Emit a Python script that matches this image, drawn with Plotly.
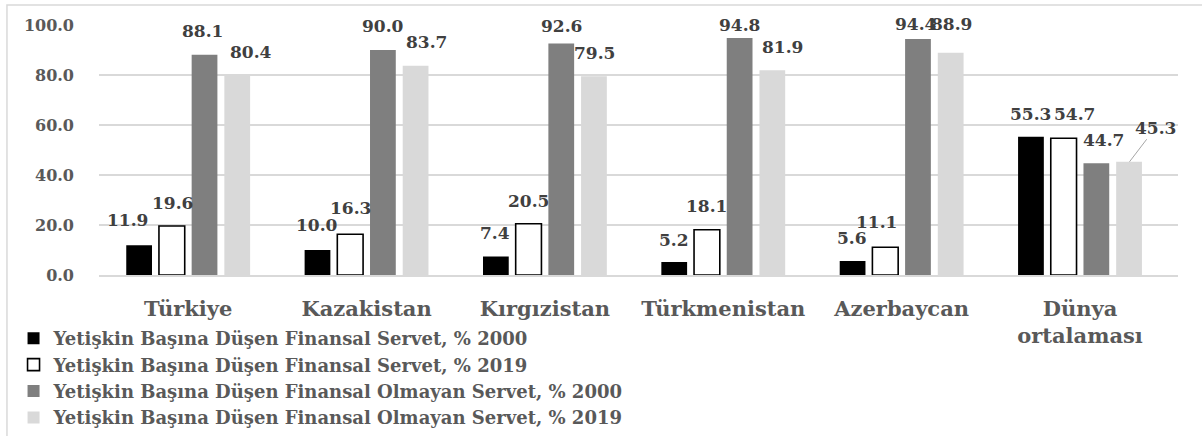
import plotly.graph_objects as go

categories = ["Türkiye", "Kazakistan", "Kırgızistan", "Türkmenistan", "Azerbaycan", "Dünya<br>ortalaması"]
series_names = [
    "Yetişkin Başına Düşen Finansal Servet, % 2000",
    "Yetişkin Başına Düşen Finansal Servet, % 2019",
    "Yetişkin Başına Düşen Finansal Olmayan Servet, % 2000",
    "Yetişkin Başına Düşen Finansal Olmayan Servet, % 2019",
]
fin_2000 = [11.9, 10.0, 7.4, 5.2, 5.6, 55.3]
fin_2019 = [19.6, 16.3, 20.5, 18.1, 11.1, 54.7]
nonfin_2000 = [88.1, 90.0, 92.6, 94.8, 94.4, 44.7]
nonfin_2019 = [80.4, 83.7, 79.5, 81.9, 88.9, 45.3]
y_ticks = [0, 20, 40, 60, 80, 100]

series = [fin_2000, fin_2019, nonfin_2000, nonfin_2019]
fills = ["#000000", "#ffffff", "#7f7f7f", "#d9d9d9"]
line_w = [0, 1.6, 0, 0]

FONT = "DejaVu Serif"
fig = go.Figure()
for name, vals, col, lw in zip(series_names, series, fills, line_w):
    fig.add_trace(go.Bar(
        x=categories, y=vals, name=name,
        marker=dict(color=col, line=dict(color="#000000", width=lw)),
    ))

# label style offsets (pixel shifts): (dx, dy) per category/series
PITCH = 33
bar_off = [-1.5, -0.5, 0.5, 1.5]
dx = [
    [-11, 1, -2, 13],
    [0, 0, 0, 10],
    [0, 0, 0, 0],
    [0, 0, 0, 10],
    [0, -9, -2, 0],
    [0, 11, 7, None],
]
dy = [
    [25, 23, 24, 22],
    [25, 26, 24, 24],
    [24, 23, 18, 23],
    [22, 24, 13, 23],
    [23, 25, 15, 29],
    [23, 24, 23, None],
]
LABEL_FONT = dict(family=FONT, size=17, color="#404040", weight="bold")
for si, vals in enumerate(series):
    for ci, cat in enumerate(categories):
        v = vals[ci]
        base_shift = bar_off[si] * PITCH
        if dx[ci][si] is None:
            fig.add_annotation(
                x=cat, y=v, xref="x", yref="y", text=f"{v:.1f}",
                xshift=base_shift, showarrow=True, arrowhead=0, arrowwidth=1,
                arrowcolor="#a6a6a6", ax=26, ay=-34, standoff=0,
                font=LABEL_FONT,
            )
        else:
            fig.add_annotation(
                x=cat, y=v, xref="x", yref="y", text=f"{v:.1f}",
                xshift=base_shift + dx[ci][si], yshift=dy[ci][si],
                yanchor="middle", showarrow=False,
                font=LABEL_FONT,
            )

fig.add_shape(type="rect", xref="paper", yref="paper",
              x0=-0.0853, x1=1.03, y0=-0.65, y1=1.08,
              line=dict(color="#d9d9d9", width=1.5), fillcolor="rgba(0,0,0,0)", layer="below")

fig.update_layout(
    width=1202, height=436,
    margin=dict(l=99, r=24, t=25, b=161, pad=0, autoexpand=False),
    paper_bgcolor="#ffffff", plot_bgcolor="#ffffff",
    barmode="group", bargap=0.2667, bargroupgap=0.212,
    font=dict(family=FONT, color="#595959"),
    legend=dict(
        x=-0.0792, xanchor="left", y=-0.18, yanchor="top",
        font=dict(family=FONT, size=18, color="#595959", weight="bold"),
        tracegroupgap=0, bgcolor="rgba(0,0,0,0)", borderwidth=0,
    ),
    showlegend=True,
)
fig.update_xaxes(
    automargin=False,
    showgrid=False, showline=True, linecolor="#d9d9d9", linewidth=1.5,
    tickfont=dict(family=FONT, size=21, color="#595959", weight="bold"),
    ticks="", ticklabelstandoff=14,
)
fig.update_yaxes(
    automargin=False,
    range=[0, 100], tickvals=y_ticks, tickformat=".1f",
    showgrid=True, gridcolor="#d9d9d9", gridwidth=1.5,
    zeroline=False, showline=False,
    tickfont=dict(family=FONT, size=16, color="#595959", weight="bold"),
    ticks="", ticklabelstandoff=24,
)

fig.write_html("out.html", config={"displayModeBar": False},
               post_script="document.body.style.margin='0';")
